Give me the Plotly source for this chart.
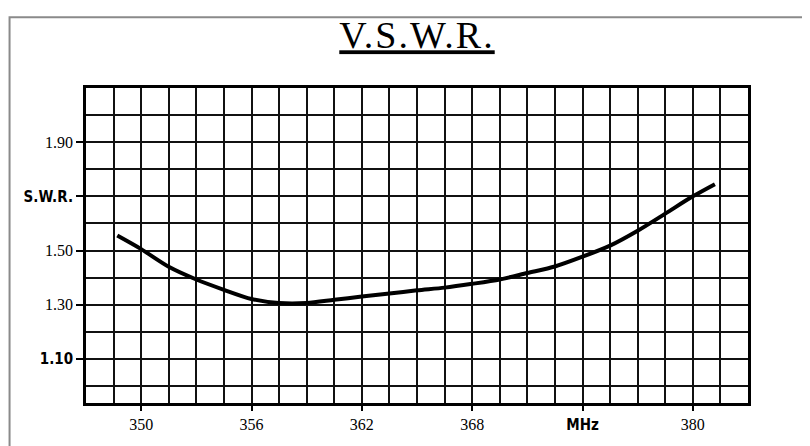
import plotly.graph_objects as go

# Data
freq_mhz = [348.7, 350.0, 351.5, 353.0, 354.5, 356.0, 357.5, 359.0, 360.5, 362.0,
            363.5, 365.0, 366.5, 368.0, 369.5, 371.0, 372.5, 374.0, 375.5, 377.0,
            378.5, 380.0, 381.2]
swr = [1.555, 1.505, 1.440, 1.393, 1.355, 1.321, 1.306, 1.306, 1.318, 1.330,
       1.341, 1.353, 1.363, 1.377, 1.393, 1.417, 1.441, 1.477, 1.518, 1.573,
       1.636, 1.700, 1.745]

x_tick_vals = [350, 356, 362, 368, 374, 380]
x_tick_text = ["350", "356", "362", "368", "MHz", "380"]
y_tick_vals = [1.1, 1.3, 1.5, 1.7, 1.9]
y_tick_text = ["1.10", "1.30", "1.50", "S.W.R.", "1.90"]

SANS_B = ("font-family:Liberation Sans Narrow, DejaVu Sans Condensed, sans-serif;"
          "font-weight:bold;font-size:15px")

def styled(t):
    if t in ("MHz", "S.W.R.", "1.10"):
        return f'<span style="{SANS_B}">{t}</span>'
    return t

W, H = 802, 438  # page has an 8px body margin inside the 810x446 window

fig = go.Figure()
fig.add_trace(go.Scatter(
    x=freq_mhz, y=swr, mode="lines",
    line=dict(color="black", width=4, shape="spline", smoothing=0.8),
    hoverinfo="skip", showlegend=False,
))

axis_common = dict(
    showline=True, mirror=True, linecolor="black", linewidth=2.5,
    showgrid=True, gridcolor="#111111", gridwidth=2,
    ticks="outside", tickcolor="black", tickwidth=2,
    zeroline=False,
    tickfont=dict(family="Liberation Serif, Times New Roman, serif", size=16, color="black"),
)

fig.update_xaxes(
    range=[347, 383], tickmode="array", tickvals=x_tick_vals,
    ticktext=[styled(t) for t in x_tick_text], ticklen=5,
    minor=dict(tick0=347, dtick=1.5, showgrid=True, gridcolor="#111111", gridwidth=2, ticklen=0),
    **axis_common,
)
fig.update_yaxes(
    range=[0.937, 2.10], tickmode="array", tickvals=y_tick_vals,
    ticktext=[styled(t) for t in y_tick_text], ticklen=7,
    minor=dict(tick0=1.0, dtick=0.1, showgrid=True, gridcolor="#111111", gridwidth=2, ticklen=0),
    **axis_common,
)

pl, pr, pt, pb = 77.5, 62, 80, 28
pw, ph = W - pl - pr, H - pt - pb

fig.update_layout(
    width=W, height=H,
    margin=dict(l=pl, r=pr, t=pt, b=pb),
    paper_bgcolor="white", plot_bgcolor="white",
    title=dict(
        text='<u><span style="letter-spacing:2px">V.S.W.R.</span></u>',
        font=dict(family="Liberation Serif, Times New Roman, serif", size=38, color="black"),
        xref="paper", x=0.5, xanchor="center",
        yref="container", y=1 - 27 / H, yanchor="middle",
    ),
    shapes=[dict(
        type="rect", xref="paper", yref="paper",
        x0=(1 - pl) / pw, x1=1.3,
        y0=-0.3, y1=(H - pb - 6) / ph,
        line=dict(color="#8a8a8a", width=2), fillcolor="rgba(0,0,0,0)", layer="below",
    )],
)

fig.write_html("out.html")
